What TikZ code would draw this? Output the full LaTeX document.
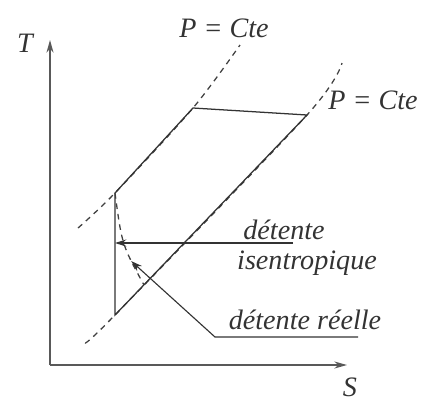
\documentclass[tikz,border=0pt]{standalone}
\usepackage{fontspec}
\setmainfont{Liberation Serif}
\usepackage{tikz}
\usetikzlibrary{arrows.meta,positioning}

\begin{document}
\begin{tikzpicture}[x=0.025cm, y=-0.025cm,
  lbl/.style={font=\fontsize{20}{24}\selectfont\itshape, text=black!80, inner sep=0pt},
  axe/.style={-{Stealth[length=9pt,width=5pt]}, line width=1pt, draw=black!65},
  isobar/.style={dashed, dash pattern=on 4pt off 3.5pt, line width=0.9pt, draw=black!75},
  cycle/.style={line width=0.9pt, draw=black!80},
  arr/.style={-{Stealth[length=8pt,width=5pt]}, line width=0.8pt, draw=black!80}
]
\useasboundingbox (0,0) rectangle (421,403);

% axes
\coordinate (O) at (50,365);
\draw[axe] (O) -- (50,40) coordinate (Ttop);
\draw[axe] (O) -- (347,365) coordinate (Sright);
\node[lbl] (T) at (25,43) {T};
\node[lbl] (S) at (350,387) {S};

% cycle points
\coordinate (A) at (115,315);
\coordinate (B) at (115,193);
\coordinate (C) at (193,108);
\coordinate (D) at (307,115);

% isobars
\draw[isobar] plot[smooth] coordinates {(78,228) (B) (C) (240,45)};
\draw[isobar] plot[smooth] coordinates {(85,343) (A) (D) (342,63)};
\node[lbl] (P1) at (224,28) {P = Cte};
\node[lbl] (P2) at (373,100) {P = Cte};

% cycle
\draw[cycle] (B) -- (C) -- (D) -- (A) -- cycle;
\draw[isobar] (B) .. controls (122,245) .. (144,285) coordinate[pos=0.75] (R);

% labels
\node[lbl] (det1) at (284,230) {détente};
\node[lbl] (iso) at (307,263) {isentropique};
\node[lbl] (reel) at (305,320) {détente réelle};
\coordinate (isoEnd) at (293,243);
\coordinate (reelEnd) at (358,337);
\coordinate (kink) at (215,337);
\draw[arr] (isoEnd) -- (A |- isoEnd);
\draw[arr] (reelEnd) -- (kink) -- (R);

\end{tikzpicture}
\end{document}
